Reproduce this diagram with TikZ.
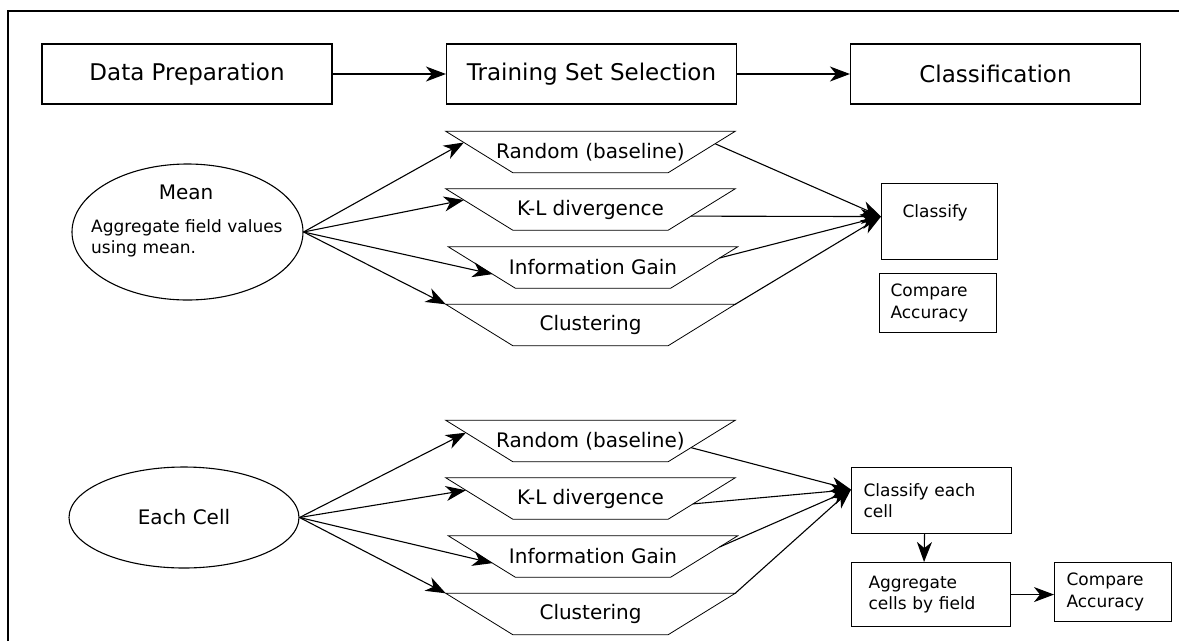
\documentclass[tikz,border=0pt]{standalone}
\usepackage{fontspec}
\setmainfont{DejaVu Sans}
\usetikzlibrary{arrows.meta,shapes.geometric,calc}

\tikzset{
  topbox/.style={draw, line width=1.1pt, minimum width=290pt, minimum height=60pt, font=\fontsize{23}{27}\selectfont},
  oval/.style={draw, ellipse, line width=1.1pt, inner sep=0pt},
  trap/.style={minimum width=289pt, minimum height=41pt, inner sep=0pt, font=\fontsize{20}{24}\selectfont},
  trapedge/.style={line width=0.8pt},
  sbox/.style={draw, line width=1.1pt, anchor=north west, align=left, inner ysep=0pt, font=\fontsize{17}{21.5}\selectfont},
  arr/.style={line width=1.1pt, -{Stealth[length=20pt,width=15pt,inset=6pt]}},
}
\newcommand{\trapline}[1]{\draw[trapedge] (#1.north west) -- (#1.north east) -- ([xshift=-67pt]#1.south east) -- ([xshift=67pt]#1.south west) -- cycle;}

\begin{document}
\begin{tikzpicture}[x=1pt,y=-1pt]
\useasboundingbox (0,0) rectangle (1179,641);
\draw[line width=1.6pt] (8,641) -- (8,11) -- (1179,11);

% stages
\node[topbox] (prep) at (187,74) {Data Preparation};
\node[topbox] (train) at (591.5,74) {Training Set Selection};
\node[topbox] (cls) at (995.5,74) {Classification};
\draw[arr] (prep.east) -- (train.west);
\draw[arr] (train.east) -- (cls.west);

% aggregation
\node[oval, minimum width=231pt, minimum height=136pt] (mean) at (187.5,232) {};
\node[anchor=base, font=\fontsize{20}{24}\selectfont] (meanhd) at (186,199) {Mean};
\node[anchor=north west, inner sep=0pt, align=left, font=\fontsize{17}{21}\selectfont] (meantx) at (91,219) {Aggregate field values\\using mean.};
\node[oval, minimum width=230pt, minimum height=101pt, font=\fontsize{20}{24}\selectfont] (each) at (184,517.5) {Each Cell};

% selection methods
\foreach \n/\x/\y/\t in {mr/590.5/152/Random (baseline), mk/590.5/209.5/K-L divergence, mi/593/267.5/Information Gain, mc/590.5/325/Clustering, er/590.5/441/Random (baseline), ek/590.5/498.5/K-L divergence, ei/593/556.5/Information Gain, ec/590.5/614/Clustering}
{
  \node[trap] (\n) at (\x,\y) {\t};
  \trapline{\n}
}
\foreach \n/\a/\b in {mr/.27/.3, mk/.27/.66, mi/.66/.27, mc/0/0, er/.3/.66, ek/.3/.63, ei/.66/.27, ec/0/0}
{
  \coordinate (\n-in) at ($(\n.north west)!\a!([xshift=67pt]\n.south west)$);
  \coordinate (\n-out) at ($(\n.north east)!\b!([xshift=-67pt]\n.south east)$);
}

% classification
\node[sbox, text width=74pt, inner xsep=21pt, text height=34pt, text depth=42pt] (clsf) at (881,183) {Classify};
\node[sbox, text width=95pt, inner xsep=11pt, minimum height=59pt] (cmp1) at (879,273) {Compare\\Accuracy};
\node[sbox, text width=136pt, inner xsep=12pt, minimum height=66pt] (ceach) at (851,467) {Classify each\\cell};
\node[sbox, text width=125pt, inner xsep=17pt, minimum height=64pt] (agg) at (851,562) {Aggregate\\cells by field};
\node[sbox, text width=93pt, inner xsep=12pt, minimum height=59pt] (cmp2) at (1054,562) {Compare\\Accuracy};

\foreach \n in {mr,mk,mi,mc}
{
  \draw[arr] (mean.east) -- (\n-in);
  \draw[arr] (\n-out) -- ([yshift=5pt]clsf.west);
}
\foreach \n in {er,ek,ei,ec}
{
  \draw[arr] (each.east) -- (\n-in);
  \draw[arr] (\n-out) -- ([yshift=11pt]ceach.west);
}
\draw[arr] ([xshift=-7pt]ceach.south) -- ([xshift=-7pt]agg.north);
\draw[arr] (agg.east) -- (agg.east -| cmp2.west);
\end{tikzpicture}
\end{document}
